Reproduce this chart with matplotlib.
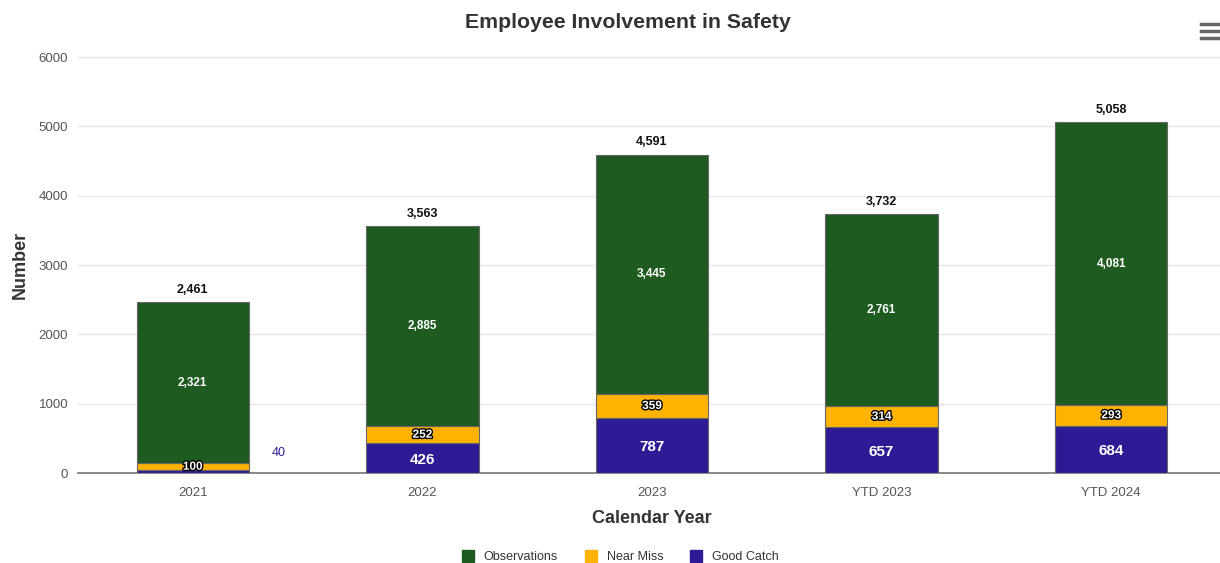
import matplotlib
matplotlib.use("Agg")
import matplotlib.pyplot as plt
import matplotlib.patheffects as pe
from matplotlib.lines import Line2D
import numpy as np

plt.rcParams['font.family'] = ['Liberation Sans', 'DejaVu Sans']

categories = ["2021", "2022", "2023", "YTD 2023", "YTD 2024"]
good_catch = [40, 426, 787, 657, 684]
near_miss = [100, 252, 359, 314, 293]
observations = [2321, 2885, 3445, 2761, 4081]
totals = [2461, 3563, 4591, 3732, 5058]

c_obs = "#1e5b20"
c_nm = "#ffb200"
c_gc = "#2e1a94"

fig = plt.figure(figsize=(12.2, 5.63), dpi=100)
ax = fig.add_axes([78/1220, 1-473/563, (1226-78)/1220, (473-57)/563])

x = np.arange(len(categories))
w = 0.49
ec = "#666666"
ax.bar(x, good_catch, w, color=c_gc, edgecolor=ec, linewidth=0.8, zorder=3)
ax.bar(x, near_miss, w, bottom=good_catch, color=c_nm, edgecolor=ec, linewidth=0.8, zorder=3)
b2 = np.array(good_catch) + np.array(near_miss)
ax.bar(x, observations, w, bottom=b2, color=c_obs, edgecolor=ec, linewidth=0.8, zorder=3)

ax.set_xlim(-0.5, len(categories) - 0.5)
ax.set_ylim(0, 6000)
ax.set_yticks(range(0, 6001, 1000))
ax.set_xticks(x)
ax.set_xticklabels(categories)
ax.grid(axis='y', color='#e6e6e6', linewidth=1, zorder=0)
for s in ['top', 'right', 'left']:
    ax.spines[s].set_visible(False)
ax.spines['bottom'].set_color('#7f7f7f')
ax.spines['bottom'].set_linewidth(1.3)
ax.tick_params(axis='both', length=0, labelsize=9.5, labelcolor='#555555')
ax.tick_params(axis='x', pad=10)
ax.tick_params(axis='y', pad=7)

ax.set_xlabel("Calendar Year", fontsize=13, fontweight='bold', color='#333333', labelpad=8)
ax.set_ylabel("Number", fontsize=13, fontweight='bold', color='#333333', labelpad=7)

stroke = [pe.withStroke(linewidth=2, foreground='black')]
for i in range(len(categories)):
    ax.text(x[i], totals[i] + 90, f"{totals[i]:,}", ha='center', va='bottom',
            fontsize=9, fontweight='bold', color='#111111')
    ax.text(x[i], b2[i] + observations[i] / 2, f"{observations[i]:,}", ha='center', va='center',
            fontsize=8.5, fontweight='bold', color='white')
    ax.text(x[i], good_catch[i] + near_miss[i] / 2, f"{near_miss[i]:,}", ha='center', va='center',
            fontsize=8.5, fontweight='bold', color='white', path_effects=stroke)
    if good_catch[i] >= 200:
        ax.text(x[i], good_catch[i] / 2 - 20, f"{good_catch[i]:,}", ha='center', va='center',
                fontsize=11, fontweight='bold', color='white')
    else:
        ax.text(x[i] + w / 2 + 0.1, good_catch[i] + 250, f"{good_catch[i]:,}", ha='left', va='center',
                fontsize=9, color=c_gc)

fig.text(628/1220, 1-22/563, "Employee Involvement in Safety", ha='center', va='center',
         fontsize=15.3, fontweight='bold', color='#333333')

handles = [Line2D([0], [0], marker='s', linestyle='', markersize=8.5, markerfacecolor=c, markeredgecolor=c)
           for c in (c_obs, c_nm, c_gc)]
fig.legend(handles, ["Observations", "Near Miss", "Good Catch"], loc='center',
           bbox_to_anchor=(617/1220, 1-557/563), ncol=3, frameon=False, fontsize=9,
           handletextpad=0.3, columnspacing=1.6, labelcolor='#333333')

for yy in (24, 31, 38):
    fig.add_artist(Line2D([1201/1220, 1219/1220], [1-yy/563, 1-yy/563], color='#666666', linewidth=2.5))

fig.savefig("out.png", dpi=100)
